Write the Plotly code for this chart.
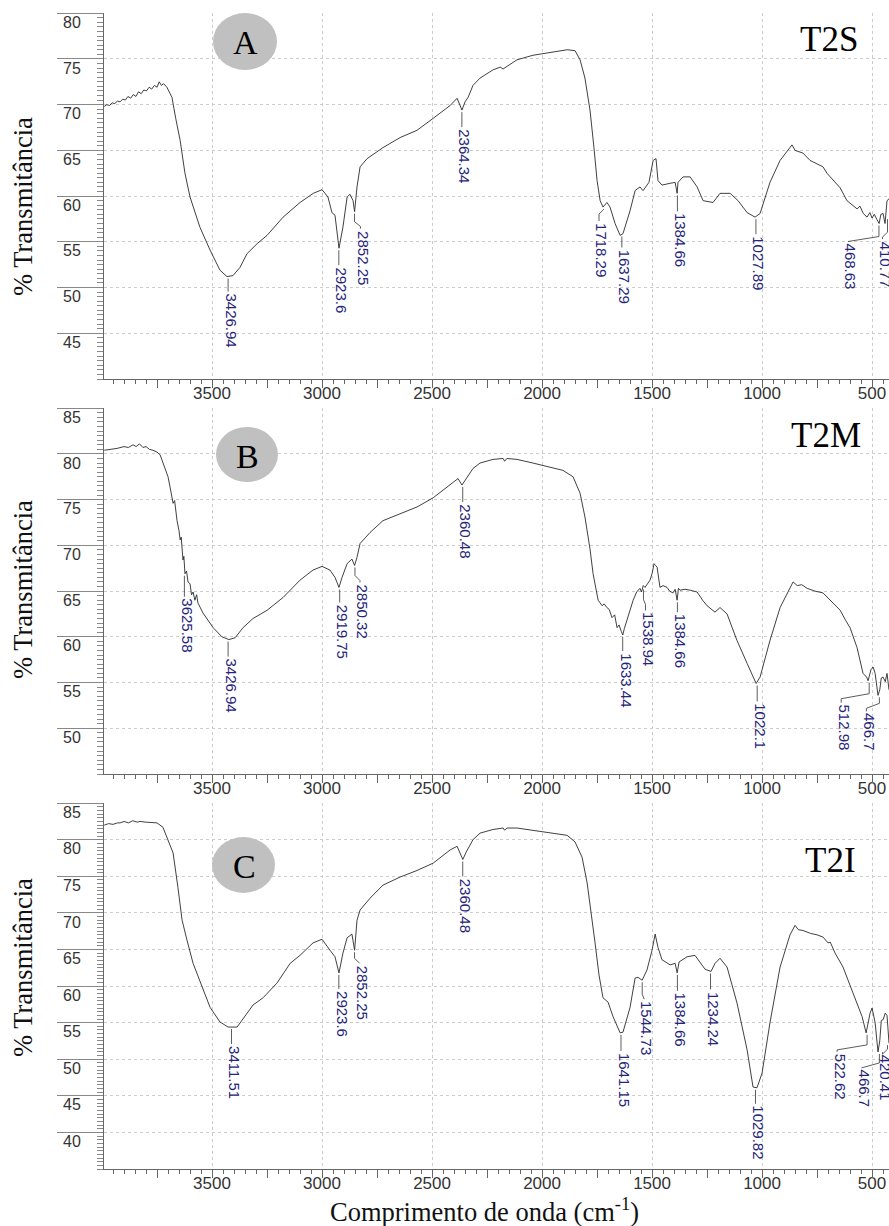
import plotly.graph_objects as go

# ---------------- data ----------------
A_wavenumber = [3990, 3978, 3966, 3954, 3942, 3930, 3918, 3906, 3894, 3882, 3870, 3858, 3846, 3834, 3822, 3810,
                3798, 3786, 3774, 3762, 3750, 3740, 3730, 3720, 3705, 3690, 3682, 3665, 3645, 3623, 3600, 3555,
                3509, 3464, 3432, 3405, 3373, 3341, 3295, 3250, 3177, 3100, 3040, 3000, 2973, 2955, 2941, 2923,
                2905, 2886, 2873, 2859, 2852, 2841, 2827, 2795, 2723, 2645, 2568, 2495, 2418, 2386, 2364, 2350,
                2336, 2314, 2282, 2223, 2190, 2177, 2114, 2041, 1964, 1886, 1850, 1827, 1805, 1782, 1764, 1750,
                1736, 1723, 1705, 1691, 1668, 1645, 1632, 1600, 1577, 1555, 1541, 1514, 1495, 1482, 1473, 1455,
                1418, 1395, 1386, 1382, 1359, 1327, 1295, 1268, 1223, 1191, 1145, 1109, 1068, 1032, 1009, 964,
                918, 873, 864, 850, 814, 782, 723, 705, 645, 614, 590, 568, 555, 540, 523, 510, 500, 490, 477,
                468, 460, 450, 441, 432, 423]
A_transmittance = [69.8, 70.0, 69.9, 70.2, 70.1, 70.4, 70.3, 70.6, 70.5, 70.9, 70.7, 71.1, 70.9, 71.4, 71.2,
                   71.6, 71.5, 71.9, 71.7, 72.1, 71.9, 72.5, 72.1, 72.3, 71.9, 71.2, 70.8, 68.5, 66.1, 62.5, 59.9,
                   56.6, 54.1, 51.9, 51.2, 51.3, 52.2, 53.7, 54.8, 55.7, 57.7, 59.3, 60.3, 60.7, 59.9, 58.2, 57.9,
                   54.3, 56.6, 59.9, 60.2, 59.5, 58.3, 61.0, 63.2, 64.1, 65.3, 66.4, 67.2, 68.5, 69.9, 70.7, 69.4,
                   70.3, 70.8, 72.1, 72.9, 73.8, 74.1, 73.9, 74.9, 75.4, 75.7, 76.0, 75.9, 74.9, 72.9, 69.4, 65.3,
                   61.7, 59.5, 58.8, 59.3, 58.8, 57.0, 55.7, 55.9, 58.4, 60.6, 61.0, 60.6, 61.5, 63.9, 64.1, 61.7,
                   61.2, 61.4, 61.5, 60.3, 61.5, 62.1, 62.1, 61.0, 59.5, 59.3, 60.3, 60.3, 59.5, 58.2, 57.7, 58.1,
                   61.5, 63.9, 65.4, 65.6, 65.0, 64.7, 63.9, 63.2, 62.5, 60.9, 59.5, 59.0, 58.6, 58.9, 58.1, 57.7,
                   58.2, 57.6, 58.0, 57.4, 57.0, 58.0, 58.1, 57.0, 59.5, 59.7]

B_wavenumber = [3990, 3960, 3932, 3900, 3880, 3859, 3845, 3830, 3814, 3800, 3785, 3768, 3750, 3736, 3714, 3700,
                3691, 3677, 3670, 3659, 3650, 3645, 3640, 3632, 3628, 3623, 3616, 3609, 3600, 3593, 3586, 3578,
                3570, 3564, 3541, 3495, 3455, 3423, 3395, 3359, 3314, 3250, 3177, 3100, 3041, 3000, 2964, 2941,
                2923, 2909, 2886, 2864, 2852, 2841, 2827, 2782, 2723, 2645, 2568, 2495, 2418, 2382, 2364, 2345,
                2314, 2282, 2223, 2177, 2170, 2160, 2114, 2041, 1964, 1905, 1859, 1827, 1805, 1782, 1768, 1745,
                1727, 1718, 1705, 1695, 1682, 1670, 1659, 1650, 1640, 1633, 1626, 1614, 1600, 1586, 1570, 1555,
                1548, 1540, 1532, 1520, 1509, 1500, 1491, 1484, 1477, 1464, 1450, 1432, 1420, 1405, 1395, 1386,
                1380, 1373, 1350, 1327, 1295, 1270, 1250, 1214, 1191, 1159, 1114, 1068, 1027, 1009, 964, 918,
                870, 859, 840, 820, 795, 760, 723, 690, 645, 620, 600, 568, 541, 525, 518, 505, 495, 486, 478,
                473, 465, 458, 450, 440, 432, 423]
B_transmittance = [80.4, 80.5, 80.6, 80.8, 80.7, 81.0, 80.8, 81.1, 80.7, 80.8, 80.5, 80.4, 80.2, 79.9, 78.5, 77.5,
                   76.4, 74.6, 74.9, 72.7, 71.6, 70.6, 70.9, 68.4, 68.8, 66.9, 67.2, 66.0, 65.8, 64.6, 64.9, 64.0,
                   64.6, 63.7, 62.6, 61.0, 60.0, 59.7, 59.9, 61.0, 62.0, 62.9, 64.3, 66.2, 67.3, 67.7, 67.3, 66.5,
                   65.4, 66.5, 68.0, 68.5, 67.8, 68.7, 70.2, 71.4, 72.7, 73.5, 74.2, 75.2, 76.6, 77.3, 76.6, 77.3,
                   78.4, 79.0, 79.4, 79.5, 79.2, 79.5, 79.4, 79.0, 78.5, 78.2, 77.5, 75.7, 73.1, 69.6, 66.9, 64.0,
                   63.4, 63.6, 63.2, 63.0, 62.1, 62.4, 61.0, 61.3, 60.6, 60.2, 60.9, 61.8, 63.0, 64.0, 64.9, 65.3,
                   64.9, 65.6, 65.4, 65.9, 66.2, 66.9, 68.0, 67.8, 67.6, 65.4, 65.6, 65.4, 65.0, 64.8, 65.2, 64.0,
                   65.3, 65.1, 65.2, 65.1, 64.9, 64.0, 63.4, 62.7, 63.2, 62.5, 59.6, 57.1, 54.9, 55.6, 59.6, 63.2,
                   65.4, 66.0, 65.6, 65.7, 65.3, 65.0, 64.8, 64.0, 62.9, 61.8, 61.0, 58.8, 56.0, 55.6, 55.2, 56.4,
                   56.7, 56.0, 54.3, 53.6, 54.2, 55.5, 55.6, 55.1, 56.0, 54.2]

C_wavenumber = [3990, 3970, 3950, 3930, 3918, 3900, 3880, 3860, 3840, 3827, 3800, 3775, 3750, 3723, 3700, 3677,
                3655, 3636, 3614, 3586, 3545, 3509, 3464, 3427, 3386, 3341, 3314, 3268, 3205, 3145, 3100, 3041,
                3000, 2964, 2941, 2923, 2905, 2886, 2864, 2852, 2841, 2827, 2782, 2723, 2645, 2568, 2495, 2418,
                2386, 2360, 2345, 2314, 2282, 2223, 2177, 2170, 2160, 2114, 2041, 1964, 1886, 1850, 1818, 1795,
                1773, 1759, 1741, 1723, 1700, 1677, 1645, 1632, 1600, 1577, 1564, 1545, 1523, 1500, 1486, 1473,
                1455, 1418, 1395, 1386, 1377, 1341, 1305, 1282, 1259, 1232, 1214, 1191, 1159, 1114, 1068, 1041,
                1023, 1000, 964, 918, 873, 850, 835, 814, 780, 750, 723, 700, 690, 668, 632, 586, 545, 527, 517,
                509, 500, 495, 486, 473, 465, 458, 450, 440, 432, 423]
C_transmittance = [82.0, 82.2, 82.1, 82.3, 82.3, 82.5, 82.3, 82.6, 82.4, 82.5, 82.4, 82.3, 82.3, 81.7, 80.0, 78.2,
                   73.5, 69.0, 66.3, 63.1, 59.9, 57.1, 55.1, 54.4, 54.4, 56.3, 57.4, 58.4, 60.4, 63.1, 64.2, 65.9,
                   66.4, 64.9, 64.0, 61.8, 64.5, 66.6, 67.1, 64.9, 69.0, 70.4, 72.0, 73.8, 74.9, 75.8, 76.8, 78.6,
                   79.1, 77.3, 78.3, 80.0, 80.9, 81.4, 81.6, 81.3, 81.6, 81.6, 81.3, 81.0, 80.6, 79.7, 77.6, 74.1,
                   68.6, 65.9, 61.5, 58.4, 57.8, 55.8, 53.6, 53.7, 57.1, 61.1, 61.2, 60.8, 62.2, 64.9, 67.1, 65.3,
                   63.6, 62.9, 63.1, 61.8, 63.3, 64.0, 64.2, 63.3, 62.3, 62.0, 63.1, 63.8, 62.6, 57.7, 51.3, 46.2,
                   46.1, 48.1, 55.0, 62.6, 67.0, 68.3, 67.7, 67.6, 67.2, 67.0, 66.7, 65.9, 66.0, 64.5, 62.6, 59.0,
                   55.8, 53.6, 55.0, 56.3, 57.0, 56.4, 55.0, 51.0, 52.5, 55.3, 55.4, 56.3, 56.0, 52.2]

# peak labels (wavenumber, transmittance at the peak)
A_peak_wn = [3426.94, 2923.6, 2852.25, 2364.34, 1718.29, 1637.29, 1384.66, 1027.89, 468.63, 410.77]
A_peak_T = [51.2, 54.3, 58.3, 69.4, 58.8, 55.8, 60.3, 57.7, 57.0, 57.7]
B_peak_wn = [3625.58, 3426.94, 2919.75, 2850.32, 2360.48, 1633.44, 1538.94, 1384.66, 1022.1, 512.98, 466.7]
B_peak_T = [66.9, 59.7, 65.4, 67.8, 76.6, 60.2, 65.4, 64.0, 54.9, 55.2, 53.6]
C_peak_wn = [3411.51, 2923.6, 2852.25, 2360.48, 1641.15, 1544.73, 1384.66, 1234.24, 1029.82, 522.62, 466.7, 420.41]
C_peak_T = [54.4, 61.8, 64.9, 77.3, 53.6, 60.8, 61.8, 62.0, 46.1, 53.6, 51.0, 52.2]

x_tick_values = [3500, 3000, 2500, 2000, 1500, 1000, 500]
A_y_ticks = [45, 50, 55, 60, 65, 70, 75, 80]
B_y_ticks = [50, 55, 60, 65, 70, 75, 80, 85]
C_y_ticks = [40, 45, 50, 55, 60, 65, 70, 75, 80, 85]
panel_letters = ["A", "B", "C"]
sample_names = ["T2S", "T2M", "T2I"]

# ---------------- layout constants (pixels) ----------------
W, H = 889, 1226
ML, MT, MB = 104, 13, 57
PW = W - ML
PH = H - MT - MB
XR = [3991, 423]
YR = {"A": [40, 80.02], "B": [45, 85.02], "C": [35, 85.02]}
PTOP = {"A": 13, "B": 408, "C": 803}
PANEL_H = 366

# leader geometry per label: (dx, v1, top offset) in px
A_lead = [(0, 0, 16), (0, 0, 18), (6, 8, 18), (0, 0, 18), (-5, 0, 15), (0, 0, 14), (0, 0, 19), (0, 0, 18),
          (-31, 11, 19), (-5, 13, 23)]
B_lead = [(0, 0, 24), (0, 0, 18), (0, 0, 16), (5, 8, 18), (0, 0, 18), (0, 0, 17), (2, 10, 24), (0, 0, 13),
          (0, 0, 19), (-28, 11, 23), (-13, 6, 17)]
C_lead = [(0, 0, 18), (0, 0, 17), (5, 6, 14), (0, 0, 18), (0, 0, 19), (2, 12, 20), (0, 0, 19), (0, 0, 19),
          (0, 0, 17), (-30, 10, 20), (-18, 9, 17), (-5, 4, 10)]


def wn_to_px(w):
    return ML + (XR[0] - w) / (XR[0] - XR[1]) * PW


def px_to_wn(p):
    return XR[0] - (p - ML) / PW * (XR[0] - XR[1])


def t_to_py(v, k):
    lo, hi = YR[k]
    return PTOP[k] + (hi - v) / (hi - lo) * PANEL_H


def py_to_t(py, k):
    lo, hi = YR[k]
    return hi - (py - PTOP[k]) / PANEL_H * (hi - lo)


def px_paper(p):
    return (p - ML) / PW


def py_paper(p):
    return (H - MB - p) / PH


SERIF = "Liberation Serif, Times New Roman, serif"
SANS = "Liberation Sans, Arial, sans-serif"
LABEL_COLOR = "#25257a"
AXIS_COLOR = "#666666"

fig = go.Figure()
panels = [
    ("A", "x", "y", A_wavenumber, A_transmittance, A_peak_wn, A_peak_T, A_lead, A_y_ticks),
    ("B", "x2", "y2", B_wavenumber, B_transmittance, B_peak_wn, B_peak_T, B_lead, B_y_ticks),
    ("C", "x3", "y3", C_wavenumber, C_transmittance, C_peak_wn, C_peak_T, C_lead, C_y_ticks),
]

shapes = []
annotations = []
layout = {}

for i, (k, xa, ya, wn, tr, pwn, pt, lead, yt) in enumerate(panels):
    fig.add_trace(go.Scatter(x=wn, y=tr, mode="lines", line=dict(color="#2a2a2a", width=0.9),
                             xaxis=xa, yaxis=ya, showlegend=False, hoverinfo="skip"))
    ov = "x%d" % (i + 4)
    fig.add_trace(go.Scatter(x=[None], y=[None], xaxis=ov, yaxis=ya, showlegend=False, hoverinfo="skip"))

    top_py = PTOP[k]
    bot_py = PTOP[k] + PANEL_H
    dom = [py_paper(bot_py), py_paper(top_py)]
    xname = "xaxis" if i == 0 else "xaxis%d" % (i + 1)
    yname = "yaxis" if i == 0 else "yaxis%d" % (i + 1)
    layout[xname] = dict(
        domain=[0, 1], range=XR, anchor=ya, tickmode="array", tickvals=x_tick_values,
        ticks="outside", ticklen=8, tickcolor=AXIS_COLOR, showline=True, linecolor=AXIS_COLOR, linewidth=1,
        showgrid=True, gridcolor="#cccccc", griddash="dot", gridwidth=1, zeroline=False,
        tickfont=dict(family=SANS, size=17, color="#333333"), ticklabeloverflow="allow",
        ticklabelstandoff=-9,
        minor=dict(dtick=50, tick0=0, ticks="outside", ticklen=4, tickcolor=AXIS_COLOR, showgrid=False),
    )
    layout["xaxis%d" % (i + 4)] = dict(
        overlaying=xa, anchor=ya, range=XR, tickmode="linear", tick0=0, dtick=250, ticks="outside",
        ticklen=8, tickcolor=AXIS_COLOR, showticklabels=False, showgrid=False, showline=False, zeroline=False,
        side="bottom",
    )
    layout[yname] = dict(
        domain=dom, range=YR[k], anchor=xa, tickmode="array", tickvals=yt,
        ticks="outside", ticklen=46, tickcolor="#888888", showline=True, linecolor=AXIS_COLOR, linewidth=1,
        showgrid=True, gridcolor="#cccccc", griddash="dot", gridwidth=1, zeroline=False,
        tickfont=dict(family=SANS, size=16, color="#333333"), ticklabeloverflow="allow",
        ticklabelshift=9, ticklabelstandoff=-27,
        minor=dict(dtick=0.5, tick0=0, ticks="outside", ticklen=6, tickcolor="#888888", showgrid=False),
    )

    for w, t, (dx, v1, toff) in zip(pwn, pt, lead):
        px = min(wn_to_px(w), 887.5)
        py = t_to_py(t, k)
        if dx == 0:
            pts = [(px, py + 2), (px, py + toff - 1)]
        else:
            pts = [(px, py + 2), (px, py + 2 + v1), (px + dx, py + 2 + v1 + 5), (px + dx, py + toff - 1)]
        path = "M " + " L ".join("%.2f,%.3f" % (px_to_wn(a), py_to_t(b, k)) for a, b in pts)
        shapes.append(dict(type="path", path=path, xref=xa, yref=ya,
                           line=dict(color="#333333", width=0.8)))
        lx = pts[-1][0] + 3
        annotations.append(dict(
            x=px_to_wn(lx), y=py_to_t(py + toff, k), xref=xa, yref=ya, text=("%g" % w),
            textangle=90, xanchor="center", yanchor="top", showarrow=False, borderpad=0,
            font=dict(family=SANS, size=15, color=LABEL_COLOR)))

    title_y = {"A": 207, "B": 590, "C": 968}[k]
    annotations.append(dict(x=px_paper(23), y=py_paper(title_y), xref="paper", yref="paper",
                            text="% Transmitância", textangle=-90, showarrow=False,
                            xanchor="center", yanchor="middle",
                            font=dict(family=SERIF, size=26.5, color="#111111")))

circles = {"A": (213, 13, 277, 70), "B": (216, 427, 278, 482), "C": (212, 837, 275, 893)}
for k, letter in zip(["A", "B", "C"], panel_letters):
    x0, y0, x1, y1 = circles[k]
    shapes.append(dict(type="circle", xref="paper", yref="paper",
                       x0=px_paper(x0), x1=px_paper(x1), y0=py_paper(y1), y1=py_paper(y0),
                       fillcolor="#c0c0c0", line=dict(width=0), layer="above"))
    annotations.append(dict(x=px_paper((x0 + x1) / 2 + 0.5), y=py_paper((y0 + y1) / 2 + 1.5),
                            xref="paper", yref="paper", text=letter, showarrow=False,
                            xanchor="center", yanchor="middle",
                            font=dict(family=SERIF, size=34, color="#000000")))

name_pos = {"A": (829, 40), "B": (826, 435), "C": (830, 860)}
for k, name in zip(["A", "B", "C"], sample_names):
    cx, cy = name_pos[k]
    annotations.append(dict(x=px_paper(cx), y=py_paper(cy), xref="paper", yref="paper", text=name,
                            showarrow=False, xanchor="center", yanchor="middle",
                            font=dict(family=SERIF, size=35, color="#000000")))

annotations.append(dict(x=px_paper(484), y=py_paper(1210), xref="paper", yref="paper",
                        text="Comprimento de onda (cm<sup>-1</sup>)", showarrow=False,
                        xanchor="center", yanchor="middle",
                        font=dict(family=SERIF, size=26.5, color="#111111")))

fig.update_layout(
    width=W, height=H, margin=dict(l=ML, r=0, t=MT, b=MB, pad=0),
    plot_bgcolor="white", paper_bgcolor="white", showlegend=False,
    shapes=shapes, annotations=annotations, **layout,
)

fig.write_html("out.html", config={"displayModeBar": False},
               post_script="document.body.style.margin='0px';document.body.style.overflow='hidden';")
